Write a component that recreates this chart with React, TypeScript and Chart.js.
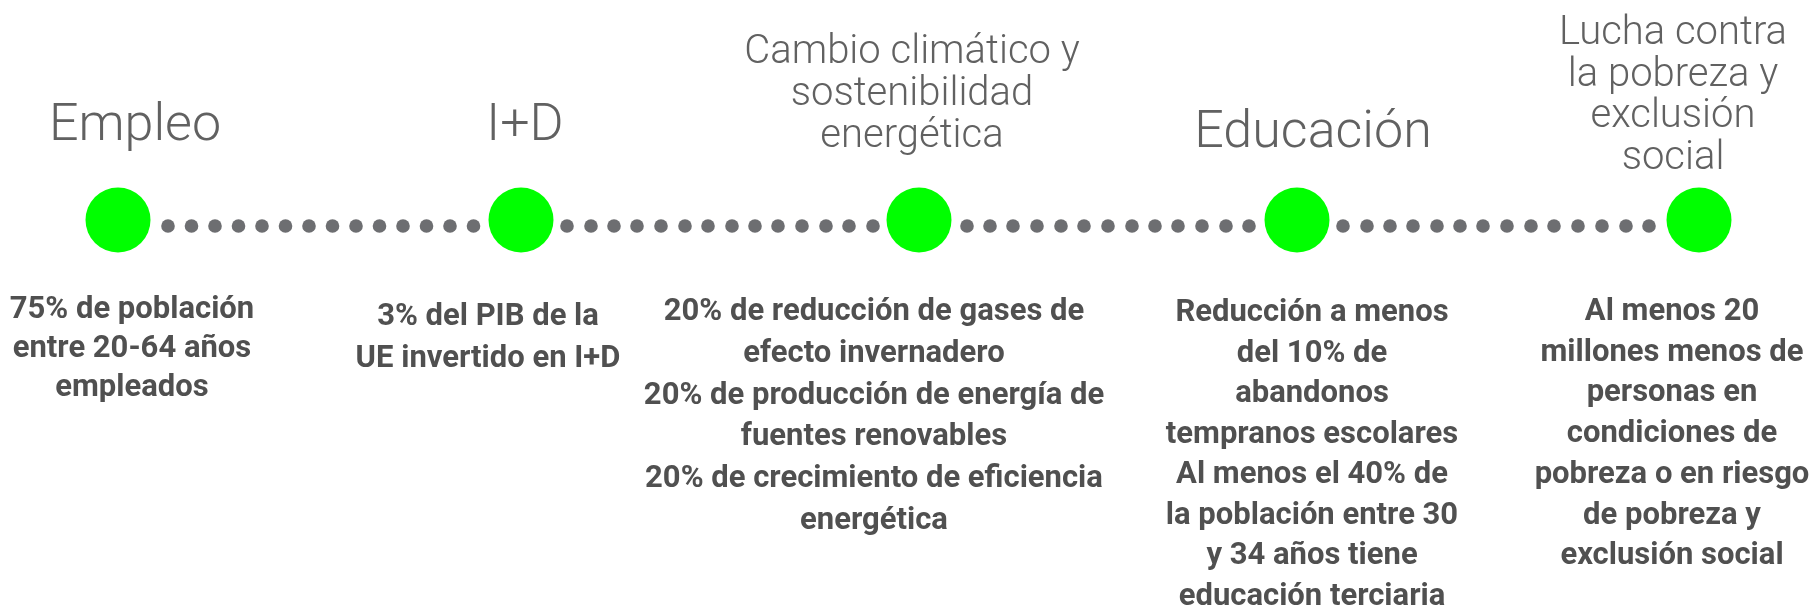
import React, { useEffect, useRef } from "react";
import { Chart, registerables } from "chart.js";

Chart.register(...registerables);

// ---- data ----
const goals = [
  "Empleo",
  "I+D",
  "Cambio climático y sostenibilidad energética",
  "Educación",
  "Lucha contra la pobreza y exclusión social",
];

const titleLines: string[][] = [
  ["Empleo"],
  ["I+D"],
  ["Cambio climático y", "sostenibilidad", "energética"],
  ["Educación"],
  ["Lucha contra", "la pobreza y", "exclusión", "social"],
];

const targetLines: string[][] = [
  ["75% de población", "entre 20-64 años", "empleados"],
  ["3% del PIB de la", "UE invertido en I+D"],
  [
    "20% de reducción de gases de",
    "efecto invernadero",
    "20% de producción de energía de",
    "fuentes renovables",
    "20% de crecimiento de eficiencia",
    "energética",
  ],
  [
    "Reducción a menos",
    "del 10% de",
    "abandonos",
    "tempranos escolares",
    "Al menos el 40% de",
    "la población entre 30",
    "y 34 años tiene",
    "educación terciaria",
  ],
  [
    "Al menos 20",
    "millones menos de",
    "personas en",
    "condiciones de",
    "pobreza o en riesgo",
    "de pobreza y",
    "exclusión social",
  ],
];

// milestone positions along the timeline axis
const milestoneX = [118, 521, 919, 1297, 1699];
const milestoneY = [220, 220, 220, 220, 220];

// connector dots between milestones
const connectorX1 = [168, 191.5, 215, 238.5, 262, 285.5, 309, 332.5, 356, 379.5, 403, 426.5, 450, 473.5];
const connectorX2 = [567, 591, 614, 637, 661, 685, 708, 732, 755, 778, 802, 826, 849, 873];
const connectorX3 = [967, 990, 1013, 1037, 1061, 1084, 1108, 1132, 1155, 1178, 1202, 1226, 1249];
const connectorX4 = [1343, 1367, 1390, 1413, 1437, 1460, 1483, 1507, 1531, 1554, 1578, 1602, 1626, 1649];
const connectorY = 226;

// ---- layout (text anchors, in axis units) ----
const titleLayout = [
  { x: 135, y: 140, size: 52, lh: 42 },
  { x: 525, y: 140, size: 52, lh: 42 },
  { x: 912, y: 63, size: 40, lh: 42 },
  { x: 1313, y: 147, size: 52, lh: 42 },
  { x: 1673, y: 44, size: 40, lh: 41.5 },
];
const bodyLayout = [
  { x: 132, y: 318, size: 31, lh: 39 },
  { x: 488, y: 325, size: 31, lh: 42 },
  { x: 874, y: 320, size: 31, lh: 41.8 },
  { x: 1312, y: 321, size: 31, lh: 40.5 },
  { x: 1672, y: 320, size: 31, lh: 40.7 },
];

const GREEN = "#00ff00";
const DOT = "#6d6e71";
const TITLE_COLOR = "#616161";
const BODY_COLOR = "#505050";

const textPlugin = {
  id: "timelineText",
  afterDatasetsDraw(chart: any) {
    const { ctx, scales } = chart;
    const xs = scales.x;
    const ys = scales.y;
    ctx.save();
    ctx.textAlign = "center";
    ctx.textBaseline = "alphabetic";
    goals.forEach((_, i) => {
      const t = titleLayout[i];
      ctx.fillStyle = TITLE_COLOR;
      ctx.font = `300 ${t.size}px Roboto`;
      titleLines[i].forEach((line, j) => {
        ctx.fillText(line, xs.getPixelForValue(t.x), ys.getPixelForValue(t.y + j * t.lh));
      });
      const b = bodyLayout[i];
      ctx.fillStyle = BODY_COLOR;
      ctx.font = `bold ${b.size}px Roboto`;
      targetLines[i].forEach((line, j) => {
        ctx.fillText(line, xs.getPixelForValue(b.x), ys.getPixelForValue(b.y + j * b.lh));
      });
    });
    ctx.restore();
  },
};

export default function App() {
  const ref = useRef<HTMLCanvasElement | null>(null);
  useEffect(() => {
    document.body.style.margin = "0";
    if (!ref.current) return;
    const connectors = [...connectorX1, ...connectorX2, ...connectorX3, ...connectorX4];
    const chart = new Chart(ref.current, {
      type: "scatter",
      data: {
        datasets: [
          {
            label: "connectors",
            data: connectors.map((x) => ({ x, y: connectorY })),
            pointRadius: 6.8,
            pointHoverRadius: 6.8,
            pointBackgroundColor: DOT,
            pointBorderWidth: 0,
            borderWidth: 0,
            clip: false,
          },
          {
            label: goals.join(" | "),
            data: milestoneX.map((x, i) => ({ x, y: milestoneY[i] })),
            pointRadius: 32.5,
            pointHoverRadius: 32.5,
            pointBackgroundColor: GREEN,
            pointBorderWidth: 0,
            borderWidth: 0,
            clip: false,
          },
        ],
      },
      options: {
        animation: false,
        responsive: false,
        devicePixelRatio: 1,
        layout: { padding: 0, autoPadding: false },
        events: [],
        plugins: { legend: { display: false }, tooltip: { enabled: false }, title: { display: false } },
        scales: {
          x: { type: "linear", min: 0, max: 1816, display: false },
          y: { type: "linear", min: 0, max: 613, reverse: true, display: false },
        },
      },
      plugins: [textPlugin],
    });
    return () => chart.destroy();
  }, []);
  return (
    <div style={{ width: 1816, height: 613, background: "#fff" }}>
      <canvas ref={ref} width={1816} height={613} style={{ display: "block" }} />
    </div>
  );
}
